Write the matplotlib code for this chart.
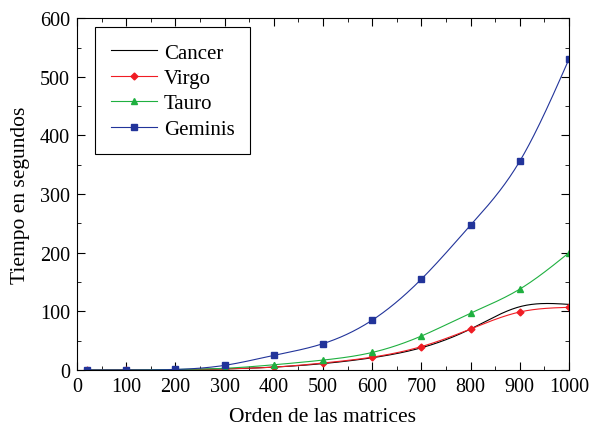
import numpy as np
import matplotlib.pyplot as plt
from matplotlib.ticker import MultipleLocator

plt.rcParams['font.family'] = ['Liberation Serif', 'DejaVu Serif']

orden = [20, 100, 200, 300, 400, 500, 600, 700, 800, 900, 1000]
cancer = [0, 0, 0.5, 2, 5, 11, 21, 38, 70, 108, 112]
virgo = [0, 0, 0.5, 2, 5, 12, 22, 40, 70, 99, 107]
tauro = [0, 0, 1, 3, 9, 17, 30, 58, 97, 138, 200]
geminis = [0, 0, 1, 8, 25, 45, 85, 155, 247, 356, 530]


def spline(x, y, n=400):
    # natural cubic spline, just for drawing the smooth curves
    x = np.asarray(x, float)
    y = np.asarray(y, float)
    k = len(x)
    h = np.diff(x)
    A = np.zeros((k, k))
    b = np.zeros(k)
    A[0, 0] = A[-1, -1] = 1
    for i in range(1, k - 1):
        A[i, i - 1] = h[i - 1]
        A[i, i] = 2 * (h[i - 1] + h[i])
        A[i, i + 1] = h[i]
        b[i] = 6 * ((y[i + 1] - y[i]) / h[i] - (y[i] - y[i - 1]) / h[i - 1])
    m = np.linalg.solve(A, b)
    xs = np.linspace(x[0], x[-1], n)
    idx = np.clip(np.searchsorted(x, xs) - 1, 0, k - 2)
    x0, x1 = x[idx], x[idx + 1]
    hh = x1 - x0
    t0, t1 = x1 - xs, xs - x0
    ys = (m[idx] * t0 ** 3 + m[idx + 1] * t1 ** 3) / (6 * hh) \
        + (y[idx] / hh - m[idx] * hh / 6) * t0 \
        + (y[idx + 1] / hh - m[idx + 1] * hh / 6) * t1
    return xs, ys


series = [
    ('Cancer', cancer, 'black', None),
    ('Virgo', virgo, '#f01c24', 'D'),
    ('Tauro', tauro, '#1fb040', '^'),
    ('Geminis', geminis, '#22349a', 's'),
]

fig = plt.figure(figsize=(5.92, 4.27), dpi=100)
ax = fig.add_axes([0.130, 0.131, 0.831, 0.824])

for name, vals, col, mk in series:
    xs, ys = spline(orden, vals)
    ax.plot(xs, ys, color=col, lw=0.8)
    ms = 3.5 if mk == 'D' else 5
    ax.plot(orden, vals, linestyle='none', marker=mk, color=col, ms=ms)
    ax.plot([], [], color=col, lw=0.8, marker=mk, ms=ms, label=name)

ax.set_xlim(0, 1000)
ax.set_ylim(0, 600)
ax.xaxis.set_major_locator(MultipleLocator(100))
ax.xaxis.set_minor_locator(MultipleLocator(50))
ax.yaxis.set_major_locator(MultipleLocator(100))
ax.yaxis.set_minor_locator(MultipleLocator(50))
ax.tick_params(which='both', direction='in', top=True, right=True, labelsize=14.5)
ax.tick_params(which='major', length=6, pad=5)
ax.tick_params(which='minor', length=3)
ax.set_xlabel('Orden de las matrices', fontsize=15.5, labelpad=8)
ax.set_ylabel('Tiempo en segundos', fontsize=15.5, labelpad=7)

leg = ax.legend(loc='upper left', bbox_to_anchor=(0.037, 0.974), fontsize=15,
                fancybox=False, edgecolor='black', framealpha=1,
                handlelength=2.2, handletextpad=0.35, labelspacing=0.28,
                borderpad=0.75, borderaxespad=0)
leg.get_frame().set_linewidth(0.8)

plt.savefig('out.png', dpi=100)
